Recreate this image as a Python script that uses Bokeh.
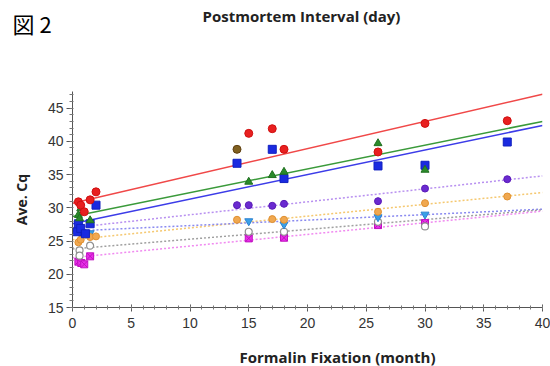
from bokeh.plotting import figure
from bokeh.layouts import column, row
from bokeh.models import SingleIntervalTicker, Range1d
from bokeh.core.properties import value
from bokeh.embed import file_html
from bokeh.resources import INLINE

# ---- data ----
red_x = [0.5, 0.7, 1.0, 1.5, 2.0, 15, 17, 18, 26, 30, 37]
red_y = [30.9, 30.4, 29.4, 31.2, 32.4, 41.2, 41.9, 38.8, 38.4, 42.7, 43.1]

green_x = [0.5, 0.6, 0.7, 1.5, 15, 17, 18, 26, 30]
green_y = [28.9, 28.4, 29.9, 28.1, 33.9, 34.9, 35.4, 39.7, 35.7]

blue_x = [0.4, 0.5, 0.7, 1.1, 1.5, 2.0, 14, 17, 18, 26, 30, 37]
blue_y = [26.4, 27.6, 26.9, 26.1, 27.6, 30.4, 36.7, 38.8, 34.4, 36.3, 36.4, 39.9]

purple_x = [0.5, 1.0, 14, 15, 17, 18, 26, 30, 37]
purple_y = [26.8, 26.2, 30.4, 30.4, 30.3, 30.6, 31.0, 32.9, 34.3]

orange_x = [0.5, 0.7, 1.5, 2.0, 14, 17, 18, 26, 30, 37]
orange_y = [24.8, 25.2, 25.6, 25.7, 28.2, 28.3, 28.2, 29.4, 30.7, 31.7]

lblue_x = [0.3, 0.8, 1.5, 15, 18, 26, 30]
lblue_y = [26.6, 25.8, 26.2, 28.0, 27.5, 28.6, 29.0]

gray_x = [0.6, 0.6, 1.5, 15, 18, 26, 30]
gray_y = [23.6, 22.8, 24.3, 26.4, 26.4, 27.9, 27.2]

magenta_x = [0.5, 0.75, 1.0, 1.5, 15, 18, 26, 30]
magenta_y = [21.9, 21.7, 21.5, 22.7, 25.4, 25.5, 27.4, 27.7]

olive_x = [14]
olive_y = [38.8]

# trend line end points (x = 0 and x = 40)
fit_x = [0, 40]
red_fit = [30.7, 47.1]
green_fit = [28.7, 43.0]
blue_fit = [27.6, 42.4]
purple_fit = [27.0, 34.8]
orange_fit = [25.2, 32.3]
lblue_fit = [26.5, 29.8]
gray_fit = [23.8, 29.7]
magenta_fit = [22.5, 29.5]

fig_label = "図 2"
title_text = "Postmortem Interval (day)"
x_title = "Formalin Fixation (month)"
y_title = "Ave. Cq"

W = 550
HEAD_H = 40
FOOT_H = 22
MAIN_H = 366 - HEAD_H - FOOT_H


def text_strip(height):
    f = figure(width=W, height=height, output_backend="svg", toolbar_location=None,
               x_range=Range1d(0, W), y_range=Range1d(height, 0),
               min_border=0, min_border_left=0, min_border_right=0,
               min_border_top=0, min_border_bottom=0)
    f.axis.visible = False
    f.grid.visible = False
    f.outline_line_color = None
    return f


# header: figure number and title
head = text_strip(HEAD_H)
head.text(x=[12], y=[22], text=[fig_label], text_font=value("Noto Sans CJK JP"),
          text_font_size="22px", text_color="#000000", text_baseline="middle", text_align="left")
head.text(x=[301], y=[15], text=[title_text], text_font=value("Open Sans"),
          text_font_style="bold", text_font_size="15px", text_color="#222222",
          text_baseline="middle", text_align="center")

# main plot
p = figure(width=W, height=MAIN_H, output_backend="svg", toolbar_location=None,
           x_range=Range1d(0, 40), y_range=Range1d(15, 47.5),
           min_border_left=72, min_border_right=8, min_border_top=91 - HEAD_H,
           min_border_bottom=(HEAD_H + MAIN_H) - 307)
p.outline_line_color = None
p.xgrid.visible = False
p.ygrid.visible = False

# trend lines
p.line(fit_x, red_fit, line_color="#f04848", line_width=1.5)
p.line(fit_x, green_fit, line_color="#3a9a3a", line_width=1.5)
p.line(fit_x, blue_fit, line_color="#3c3ce8", line_width=1.5)
p.line(fit_x, purple_fit, line_color="#b890f0", line_width=1.5, line_dash="2 2")
p.line(fit_x, orange_fit, line_color="#f5c870", line_width=1.5, line_dash="2 2")
p.line(fit_x, lblue_fit, line_color="#8a8af0", line_width=1.5, line_dash="2 2")
p.line(fit_x, gray_fit, line_color="#a0a0a0", line_width=1.5, line_dash="2 2")
p.line(fit_x, magenta_fit, line_color="#f08af0", line_width=1.5, line_dash="2 2")

# points
p.scatter(magenta_x, magenta_y, marker="square_x", size=7, fill_color="#e830e8", line_color="#c010c0")
p.scatter(gray_x, gray_y, marker="circle", size=7, fill_color="white", line_color="#909090", line_width=1.2)
p.scatter(lblue_x, lblue_y, marker="inverted_triangle", size=8, fill_color="#3aa0e8", line_color="#2a80d0")
p.scatter(orange_x, orange_y, marker="circle", size=7, fill_color="#f0a850", line_color="#e09030")
p.scatter(purple_x, purple_y, marker="circle", size=7, fill_color="#6a2ad0", line_color="#5a1ab8")
p.scatter(blue_x, blue_y, marker="square", size=8, fill_color="#1a2ae0", line_color="#1020c0")
p.scatter(green_x, green_y, marker="triangle", size=8, fill_color="#2a8a2a", line_color="#207020")
p.scatter(red_x, red_y, marker="circle", size=8, fill_color="#e82020", line_color="#d01010")
p.scatter(olive_x, olive_y, marker="circle", size=8, fill_color="#806020", line_color="#604010")

# axes
for ax in (p.xaxis[0], p.yaxis[0]):
    ax.axis_line_color = "#555555"
    ax.major_tick_line_color = "#555555"
    ax.minor_tick_line_color = "#777777"
    ax.major_label_text_font = "Liberation Sans"
    ax.major_label_text_font_size = "14px"
    ax.major_label_text_color = "#333333"

p.xaxis[0].ticker = SingleIntervalTicker(interval=5, num_minor_ticks=5)
p.yaxis[0].ticker = SingleIntervalTicker(interval=5, num_minor_ticks=5)
p.xaxis.major_tick_in = 3
p.xaxis.major_tick_out = 4
p.xaxis.minor_tick_in = 2
p.xaxis.minor_tick_out = 2
p.xaxis.major_label_standoff = 6
p.yaxis.major_tick_in = 0
p.yaxis.major_tick_out = 6
p.yaxis.minor_tick_in = 1
p.yaxis.minor_tick_out = 3
p.yaxis.major_label_standoff = 3
p.yaxis.axis_label = y_title
p.yaxis.axis_label_text_font = "Open Sans"
p.yaxis.axis_label_text_font_style = "bold"
p.yaxis.axis_label_text_font_size = "14px"
p.yaxis.axis_label_text_color = "#222222"
p.yaxis.axis_label_standoff = 14

# footer: x-axis title
foot = text_strip(FOOT_H)
foot.text(x=[337], y=[12], text=[x_title], text_font=value("Open Sans"),
          text_font_style="bold", text_font_size="15px", text_color="#222222",
          text_baseline="middle", text_align="center")

layout = column(row(head, spacing=0), p, row(foot, spacing=0), spacing=0)
open("out.html", "w").write(file_html(layout, INLINE))
